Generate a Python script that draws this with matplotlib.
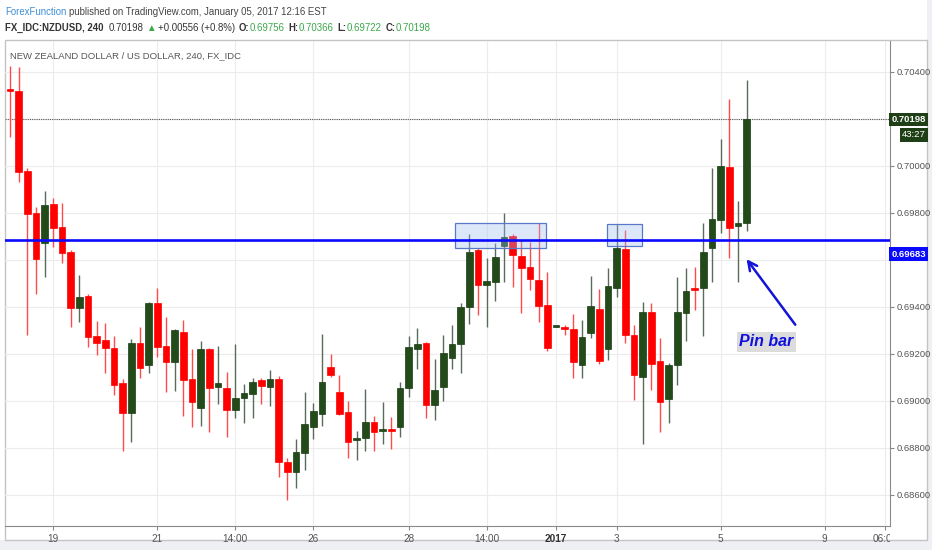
import numpy as np
import matplotlib.pyplot as plt
from matplotlib.patches import Rectangle
from matplotlib.transforms import Bbox, TransformedBbox

# NZDUSD 4h candles (FX_IDC)
opens = [0.70326, 0.70320, 0.69980, 0.69801, 0.69672, 0.69838, 0.69740, 0.69635, 0.69396, 0.69447,
         0.69278, 0.69260, 0.69227, 0.69077, 0.68950, 0.69248, 0.69153, 0.69418, 0.69234, 0.69166,
         0.69295, 0.69094, 0.68972, 0.69221, 0.69060, 0.69057, 0.68962, 0.69013, 0.69030, 0.69089,
         0.69060, 0.69094, 0.68741, 0.68698, 0.68780, 0.68889, 0.68945, 0.69146, 0.69038, 0.68953,
         0.68834, 0.68844, 0.68912, 0.68872, 0.68881, 0.68889, 0.69055, 0.69221, 0.69248, 0.68983,
         0.69060, 0.69183, 0.69243, 0.69399, 0.69643, 0.69494, 0.69508, 0.69660, 0.69703, 0.69618,
         0.69572, 0.69515, 0.69409, 0.69315, 0.69316, 0.69306, 0.69153, 0.69288, 0.69390, 0.69221,
         0.69480, 0.69647, 0.69281, 0.69104, 0.69380, 0.69172, 0.69007, 0.69153, 0.69373, 0.69480,
         0.69480, 0.69652, 0.69770, 0.69995, 0.69745, 0.69756]
highs = [0.70426, 0.70423, 0.69992, 0.69827, 0.69894, 0.69864, 0.69844, 0.69643, 0.69536, 0.69455,
         0.69342, 0.69332, 0.69278, 0.69094, 0.69264, 0.69315, 0.69423, 0.69481, 0.69358, 0.69306,
         0.69345, 0.69221, 0.69257, 0.69226, 0.69234, 0.69124, 0.69243, 0.69072, 0.69098, 0.69098,
         0.69132, 0.69106, 0.68758, 0.68838, 0.69038, 0.68992, 0.69285, 0.69200, 0.69111, 0.68999,
         0.68872, 0.69051, 0.68936, 0.68997, 0.68933, 0.69082, 0.69278, 0.69311, 0.69252, 0.69179,
         0.69281, 0.69323, 0.69417, 0.69711, 0.69652, 0.69607, 0.69672, 0.69799, 0.69711, 0.69685,
         0.69678, 0.69759, 0.69548, 0.69321, 0.69323, 0.69370, 0.69345, 0.69532, 0.69477, 0.69567,
         0.69753, 0.69728, 0.69323, 0.69420, 0.69416, 0.69267, 0.69163, 0.69526, 0.69567, 0.69572,
         0.69756, 0.69990, 0.70115, 0.70284, 0.69852, 0.70366]
lows = [0.70123, 0.69933, 0.69281, 0.69455, 0.69528, 0.69657, 0.69587, 0.69316, 0.69336, 0.69230,
        0.69196, 0.69119, 0.69026, 0.68789, 0.68827, 0.69098, 0.69119, 0.69187, 0.69038, 0.69044,
        0.68938, 0.68891, 0.68895, 0.68868, 0.68987, 0.68848, 0.68928, 0.68908, 0.68928, 0.68987,
        0.68979, 0.68678, 0.68579, 0.68630, 0.68707, 0.68838, 0.68895, 0.69104, 0.68941, 0.68758,
        0.68749, 0.68789, 0.68789, 0.68817, 0.68796, 0.68848, 0.69018, 0.69136, 0.68928, 0.68919,
        0.68999, 0.69136, 0.69119, 0.69328, 0.69366, 0.69316, 0.69427, 0.69508, 0.69486, 0.69376,
        0.69472, 0.69335, 0.69214, 0.69313, 0.69281, 0.69097, 0.69097, 0.69269, 0.69158, 0.69175,
        0.69444, 0.69248, 0.69004, 0.68817, 0.69047, 0.68869, 0.68908, 0.69068, 0.69257, 0.69387,
        0.69277, 0.69508, 0.69714, 0.69607, 0.69508, 0.69722]
closes = [0.70320, 0.69975, 0.69796, 0.69604, 0.69834, 0.69737, 0.69630, 0.69396, 0.69444, 0.69272,
          0.69248, 0.69226, 0.69068, 0.68949, 0.69247, 0.69142, 0.69417, 0.69231, 0.69166, 0.69302,
          0.69089, 0.68996, 0.69221, 0.69055, 0.69077, 0.68962, 0.69014, 0.69034, 0.69082, 0.69065,
          0.69094, 0.68741, 0.68699, 0.68783, 0.68902, 0.68958, 0.69081, 0.69111, 0.68945, 0.68827,
          0.68841, 0.68912, 0.68868, 0.68881, 0.68871, 0.69057, 0.69231, 0.69243, 0.68983, 0.69047,
          0.69204, 0.69243, 0.69401, 0.69635, 0.69494, 0.69512, 0.69614, 0.69697, 0.69621, 0.69565,
          0.69518, 0.69406, 0.69224, 0.69318, 0.69305, 0.69167, 0.69271, 0.69404, 0.69170, 0.69489,
          0.69650, 0.69281, 0.69111, 0.69380, 0.69158, 0.68995, 0.69153, 0.69380, 0.69468, 0.69472,
          0.69635, 0.69773, 0.70000, 0.69737, 0.69759, 0.70198]

# time axis (candle index) labels
time_ticks = [5, 17, 26, 35, 46, 55, 63, 70, 82, 94, 101]
time_labels = ['19', '21', '14:00', '26', '28', '14:00', '2017', '3', '5', '9', '06:00']
price_ticks = [0.686, 0.688, 0.690, 0.692, 0.694, 0.696, 0.698, 0.700, 0.702, 0.704]

support = 0.69683
last_price = 0.70198
countdown = '43:27'
# resistance boxes: (start index, end index, low price, high price)
zones = [(51.3, 61.8, 0.69651, 0.69757), (68.9, 72.9, 0.69660, 0.69753)]
pin_bar = 84

FONT = ['Liberation Sans', 'DejaVu Sans']
plt.rcParams['font.family'] = FONT

W, H = 932, 550
fig = plt.figure(figsize=(W / 100, H / 100), dpi=100)

def fx(x):
    return x / W

def fy(y):
    return 1 - y / H

# outer frame and light strip below it
fig.add_artist(Rectangle((0, 0), 1, fy(540), transform=fig.transFigure, fc='#eef0f3', ec='none', zorder=-3))
fig.add_artist(Rectangle((fx(927), 0), 1, 1, transform=fig.transFigure, fc='#eef0f3', ec='none', zorder=-3))
fig.add_artist(Rectangle((fx(5), fy(540)), fx(922), fy(40) - fy(540), transform=fig.transFigure,
                         fc='white', ec='#c4c4c4', lw=1, zorder=-2))

ax = fig.add_axes([fx(5), fy(526), fx(885), fy(40.7) - fy(526)])
ax.patch.set_alpha(0)
ax.set_xlim(-0.58, 101.54)
ax.set_ylim(0.68468, 0.70533)

o = np.array(opens)
h = np.array(highs)
l = np.array(lows)
c = np.array(closes)
idx = np.arange(len(o))
up = c >= o

# wicks
ax.vlines(idx[up], l[up], h[up], color='#5b6b5b', lw=1, zorder=3)
ax.vlines(idx[~up], l[~up], h[~up], color='#ff4a4a', lw=1, zorder=3)
# bodies
body = np.maximum(np.abs(c - o), 0.00007)
bottom = np.minimum(o, c)
ax.bar(idx[up], body[up], bottom=bottom[up], width=0.74, color='#224b19', ec='#1a3a13', lw=0.5, zorder=4)
ax.bar(idx[~up], body[~up], bottom=bottom[~up], width=0.74, color='#ff0000', ec='#ff0000', lw=0.5, zorder=4)

# resistance zones
for x0, x1, p0, p1 in zones:
    ax.add_patch(Rectangle((x0, p0), x1 - x0, p1 - p0, fc=(0.62, 0.74, 0.95, 0.35),
                           ec='#5878c8', lw=0.9, zorder=5))

ax.axhline(support, color='#0a0aff', lw=1.9, zorder=6)
ax.axhline(last_price, color='#555555', lw=0.8, ls=(0, (1, 1)), zorder=2)

# axes look
ax.set_xticks(time_ticks)
ax.set_xticklabels(time_labels)
ax.set_yticks(price_ticks)
# the two levels under the price tags stay unlabeled (the tags cover them)
ax.set_yticklabels(['' if p in (0.696, 0.702) else '%.5f' % p for p in price_ticks])
ax.yaxis.tick_right()
ax.tick_params(axis='y', length=3, color='#888888', labelcolor='#555555', labelsize=6.8, pad=2)
ax.tick_params(axis='x', length=3, color='#888888', labelcolor='#555555', labelsize=7.2, pad=2.5)
ax.get_xticklabels()[6].set_fontweight('bold')
ax.get_xticklabels()[6].set_color('#333333')
ax.grid(color='#ececec', lw=0.8, zorder=0)
ax.set_axisbelow(True)
for side in ['left', 'top']:
    ax.spines[side].set_visible(False)
for side in ['right', 'bottom']:
    ax.spines[side].set_color('#8a8a8a')

fig.canvas.draw()
clip = TransformedBbox(Bbox([[0, 0], [fx(890), 1]]), fig.transFigure)
for lbl in ax.get_xticklabels():
    lbl.set_clip_box(clip)
    lbl.set_clip_on(True)

# price labels on the scale
ax.annotate('%.5f' % last_price, xy=(1, last_price), xycoords=('axes fraction', 'data'),
            xytext=(26, 0), textcoords='offset points', ha='right', va='center', color='white',
            fontsize=6.8, fontweight='bold', annotation_clip=False, zorder=10,
            bbox=dict(boxstyle='square,pad=0.25', fc='#1f3f16', ec='none'))
ax.annotate(countdown, xy=(1, last_price), xycoords=('axes fraction', 'data'),
            xytext=(26, -11), textcoords='offset points', ha='right', va='center', color='white',
            fontsize=6.8, annotation_clip=False, zorder=10,
            bbox=dict(boxstyle='square,pad=0.25', fc='#1f3f16', ec='none'))
ax.annotate('%.5f' % support, xy=(1, support), xycoords=('axes fraction', 'data'),
            xytext=(26, -10), textcoords='offset points', ha='right', va='center', color='white',
            fontsize=6.8, fontweight='bold', annotation_clip=False, zorder=10,
            bbox=dict(boxstyle='square,pad=0.25', fc='#0a0aff', ec='none'))

# pin bar note
ax.annotate('', xy=(pin_bar + 0.8, 0.69613), xytext=(pin_bar + 6.8, 0.69315),
            arrowprops=dict(arrowstyle='->', color='#1414d8', lw=1.8, mutation_scale=16), zorder=8)
ax.text(pin_bar + 3.3, 0.69251, 'Pin bar', color='#1010dd', fontsize=11.5, fontweight='bold',
        fontstyle='italic', ha='center', va='center', zorder=8,
        bbox=dict(boxstyle='square,pad=0.15', fc='#dcdcdc', ec='none'))

fig.text(fx(10), fy(56), 'NEW ZEALAND DOLLAR / US DOLLAR, 240, FX_IDC',
         color='#555555', fontsize=6.8, va='center')

# header lines
top = fig.add_axes([0, 0, 1, 1], zorder=-1)
top.axis('off')

def header(pieces, y):
    prev = fig.text(fx(5), fy(y), pieces[0][0], color=pieces[0][1], fontweight=pieces[0][2],
                    fontsize=6.9, va='baseline')
    for text, col, weight, gap in pieces[1:]:
        prev = top.annotate(text, xy=(1, fy(y)), xycoords=(prev, 'figure fraction'),
                            xytext=(gap, 0), textcoords='offset points', color=col,
                            fontweight=weight, fontsize=6.9, va='baseline', ha='left')

green = '#3aa84a'
dark = '#333333'
header([('ForexFunction', '#3d8ed6', 'normal', 0),
        ('published on TradingView.com, January 05, 2017 12:16 EST', '#444444', 'normal', 2)], 15)
header([('FX_IDC:NZDUSD, 240', dark, 'bold', 0),
        ('0.70198', dark, 'normal', 4),
        ('\u25b2', green, 'normal', 1.5),
        ('+0.00556 (+0.8%)', dark, 'normal', 1.5),
        ('O:', dark, 'bold', 3), ('0.69756', green, 'normal', 0),
        ('H:', dark, 'bold', 3), ('0.70366', green, 'normal', 0),
        ('L:', dark, 'bold', 3), ('0.69722', green, 'normal', 0),
        ('C:', dark, 'bold', 3), ('0.70198', green, 'normal', 0)], 31)

fig.savefig('out.png', dpi=100)
